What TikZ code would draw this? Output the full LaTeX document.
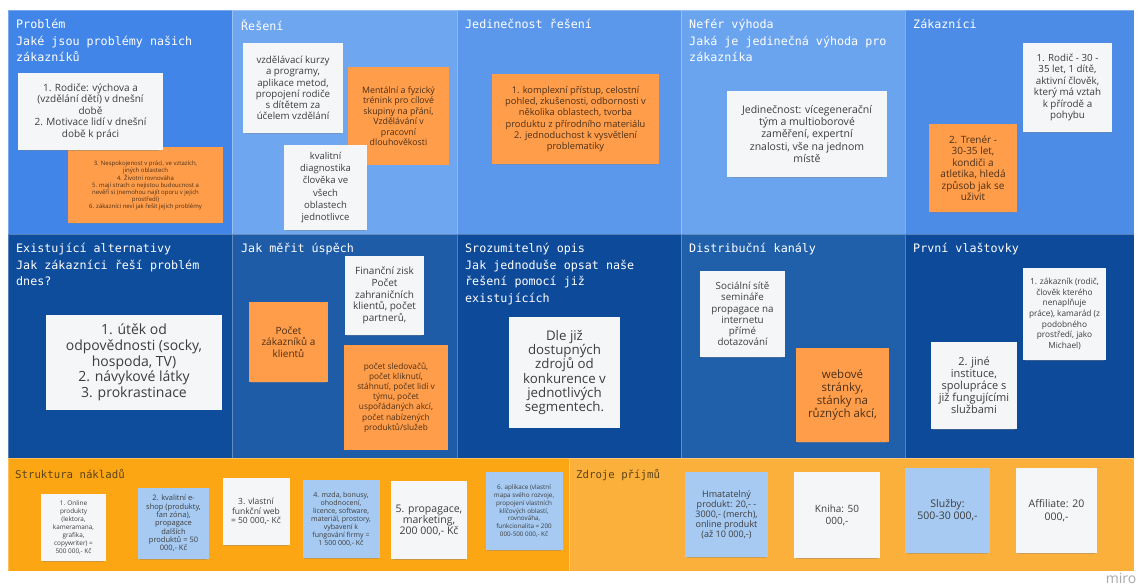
\documentclass[tikz,border=0pt]{standalone}
\usepackage{fontspec}
\setmainfont{Open Sans}
\newfontfamily\monohead{DejaVu Sans Mono}
\usetikzlibrary{shadows}

\definecolor{probBlue}{HTML}{4285E8}
\definecolor{solBlue}{HTML}{6EA6EF}
\definecolor{uniqBlue}{HTML}{5B98EC}
\definecolor{advBlue}{HTML}{6AA4EF}
\definecolor{custBlue}{HTML}{4C8BE6}
\definecolor{altBlue}{HTML}{0E4C9C}
\definecolor{metBlue}{HTML}{1F5CA8}
\definecolor{descBlue}{HTML}{0D4A99}
\definecolor{chanBlue}{HTML}{2060AA}
\definecolor{earlyBlue}{HTML}{0D4A9A}
\definecolor{costOrange}{HTML}{FCA614}
\definecolor{revOrange}{HTML}{FBB03C}
\definecolor{stickyWhite}{HTML}{F5F6F8}
\definecolor{stickyOrange}{HTML}{FF9D4A}
\definecolor{stickyBlue}{HTML}{A6CAF2}
\definecolor{inkGray}{HTML}{3D3D3D}
\definecolor{inkBrown}{HTML}{4B3018}
\definecolor{headBrown}{HTML}{5C4318}
\definecolor{logoGray}{HTML}{A8A8A8}

\begin{document}
\begin{tikzpicture}[x=1pt,y=-1pt,
	sticky/.style={rectangle, align=center, inner sep=1pt, drop shadow={shadow xshift=0pt, shadow yshift=-3pt, shadow scale=0.95, opacity=0.4}},
	whitenote/.style={sticky, fill=stickyWhite, text=inkGray},
	orangenote/.style={sticky, fill=stickyOrange, text=inkBrown},
	bluenote/.style={sticky, fill=stickyBlue, text=inkGray},
	fsz/.style 2 args={font=\fontsize{#1}{#2}\selectfont},
	heading/.style={anchor=north west, align=left, inner sep=0pt, text=white, font=\monohead\fontsize{11.7}{16.5}\selectfont},
	lowheading/.style={heading, text=headBrown, font=\monohead\fontsize{10.7}{14}\selectfont},
	cell/.style={draw=white, draw opacity=0.3, line width=0.6pt}]
	
	\useasboundingbox (0,0) rectangle (1140,586);
	\fill[white] (0,0) rectangle (1140,586);
	
	%Canvas cells
	\path[fill=probBlue, cell] (8,10) rectangle (232,234);
	\path[fill=solBlue, cell] (232,10) rectangle (457,234);
	\path[fill=uniqBlue, cell] (457,10) rectangle (681,234);
	\path[fill=advBlue, cell] (681,10) rectangle (905,234);
	\path[fill=custBlue, cell] (905,10) rectangle (1134,234);
	\path[fill=altBlue, cell] (8,234) rectangle (232,458);
	\path[fill=metBlue, cell] (232,234) rectangle (457,458);
	\path[fill=descBlue, cell] (457,234) rectangle (681,458);
	\path[fill=chanBlue, cell] (681,234) rectangle (905,458);
	\path[fill=earlyBlue, cell] (905,234) rectangle (1134,458);
	\path[fill=costOrange, cell] (8,458) rectangle (569,571);
	\path[fill=revOrange, cell] (569,458) rectangle (1134,571);
	
	%Headings
	\node (probHead) at (16,19) [heading]{Problém\\Jaké jsou problémy našich\\zákazníků};
	\node (solHead) at (241,19) [heading]{Řešení};
	\node (uniqHead) at (465,19) [heading]{Jedinečnost řešení};
	\node (advHead) at (689,19) [heading]{Nefér výhoda\\Jaká je jedinečná výhoda pro\\zákazníka};
	\node (custHead) at (913,19) [heading]{Zákazníci};
	\node (altHead) at (16,243) [heading]{Existující alternativy\\Jak zákazníci řeší problém\\dnes?};
	\node (metHead) at (241,243) [heading]{Jak měřit úspěch};
	\node (descHead) at (465,243) [heading]{Srozumitelný opis\\Jak jednoduše opsat naše\\řešení pomocí již\\existujících};
	\node (chanHead) at (689,243) [heading]{Distribuční kanály};
	\node (earlyHead) at (913,243) [heading]{První vlaštovky};
	\node (costHead) at (15,469) [lowheading]{Struktura nákladů};
	\node (revHead) at (576,469) [lowheading]{Zdroje příjmů};
	
	%Problem notes
	\node (probB) at (145.5,185) [orangenote, minimum width=155pt, minimum height=76pt, fsz={6}{7}]{3. Nespokojenost v práci, ve vztazích,\\jiných oblastech\\4. Životní rovnováha\\5. mají strach o nejistou budoucnost a\\nevěří si (nemohou najít oporu v jejich\\prostředí)\\6. zákazníci neví jak řešit jejich problémy};
	\node (probA) at (90.5,111.5) [whitenote, minimum width=145pt, minimum height=77pt, fsz={10}{11.5}]{1. Rodiče: výchova a\\(vzdělání dětí) v dnešní\\době\\2. Motivace lidí v dnešní\\době k práci};
	
	%Solution notes
	\node (solA) at (293,88) [whitenote, minimum width=100pt, minimum height=90pt, fsz={9.7}{11.3}]{vzdělávací kurzy\\a programy,\\aplikace metod,\\propojení rodiče\\s dítětem za\\účelem vzdělání};
	\node (solB) at (398.5,116) [orangenote, minimum width=101pt, minimum height=98pt, fsz={8.8}{10.5}]{Mentální a fyzický\\trénink pro cílové\\skupiny na přání,\\Vzdělávání v\\pracovní\\dlouhověkosti};
	\node (solC) at (325.5,187.5) [whitenote, minimum width=83pt, minimum height=85pt, fsz={9.5}{12}]{kvalitní\\diagnostika\\člověka ve\\všech\\oblastech\\jednotlivce};
	
	%Uniqueness note
	\node (uniqA) at (575.5,119) [orangenote, minimum width=167pt, minimum height=90pt, fsz={9.3}{11.3}]{1. komplexní přístup, celostní\\pohled, zkušenosti, odbornosti v\\několika oblastech, tvorba\\produktu z přírodního materiálu\\2. jednoduchost k vysvětlení\\problematiky};
	
	%Advantage note
	\node (advA) at (807,134) [whitenote, minimum width=160pt, minimum height=86pt, fsz={10.5}{12.2}]{Jedinečnost: vícegenerační\\tým a multioborové\\zaměření, expertní\\znalosti, vše na jednom\\místě};
	
	%Customer notes
	\node (custA) at (1067.5,87.5) [whitenote, minimum width=89pt, minimum height=89pt, fsz={9.8}{11.4}]{1. Rodič - 30 -\\35 let, 1 dítě,\\aktivní člověk,\\který má vztah\\k přírodě a\\pohybu};
	\node (custB) at (973,168) [orangenote, minimum width=88pt, minimum height=88pt, fsz={10}{11.5}]{2. Trenér -\\30-35 let,\\kondiči a\\atletika, hledá\\způsob jak se\\uživit};
	
	%Alternatives note
	\node (altA) at (134,362.5) [whitenote, minimum width=176pt, minimum height=95pt, fsz={14}{15.8}]{1. útěk od\\odpovědnosti (socky,\\hospoda, TV)\\2. návykové látky\\3. prokrastinace};
	
	%Metrics notes
	\node (metA) at (384.5,295.5) [whitenote, minimum width=79pt, minimum height=79pt, fsz={10}{11.6}]{Finanční zisk\\Počet\\zahraničních\\klientů, počet\\partnerů,};
	\node (metB) at (288.5,342) [orangenote, minimum width=79pt, minimum height=80pt, fsz={10}{11.7}]{Počet\\zákazníků a\\klientů};
	\node (metC) at (396,397.5) [orangenote, minimum width=104pt, minimum height=105pt, fsz={8.3}{10.1}]{počet sledovačů,\\počet kliknutí,\\stáhnutí, počet lidí v\\týmu, počet\\uspořádaných akcí,\\počet nabízených\\produktů/služeb};
	
	%Description note
	\node (descA) at (564.5,372.5) [whitenote, minimum width=111pt, minimum height=111pt, fsz={13.3}{14.3}]{Dle již\\dostupných\\zdrojů od\\konkurence v\\jednotlivých\\segmentech.};
	
	%Channel notes
	\node (chanA) at (742.5,314) [whitenote, minimum width=85pt, minimum height=86pt, fsz={9.8}{11.3}]{Sociální sítě\\semináře\\propagace na\\internetu\\přímé\\dotazování};
	\node (chanB) at (842.5,395) [orangenote, minimum width=93pt, minimum height=94pt, fsz={11.5}{13.3}]{webové\\stránky,\\stánky na\\různých akcí,};
	
	%Early adopter notes
	\node (earlyA) at (1064.5,314) [whitenote, minimum width=83pt, minimum height=92pt, fsz={8.3}{10.6}]{1. zákazník (rodič,\\člověk kterého\\nenaplňuje\\práce), kamarád (z\\podobného\\prostředí, jako\\Michael)};
	\node (earlyB) at (974,385.5) [whitenote, minimum width=86pt, minimum height=87pt, fsz={11}{12}]{2. jiné\\instituce,\\spolupráce s\\již fungujícími\\službami};
	
	%Cost notes
	\node (costA) at (73.5,527.5) [whitenote, minimum width=65pt, minimum height=67pt, fsz={6.4}{7.9}]{1. Online\\produkty\\(lektora,\\kameramana,\\grafika,\\copywriter) =\\500 000,- Kč};
	\node (costB) at (173.5,523.5) [bluenote, minimum width=71pt, minimum height=71pt, fsz={7.5}{8.3}]{2. kvalitní e-\\shop (produkty,\\fan zóna),\\propagace\\dalších\\produktů = 50\\000,- Kč};
	\node (costC) at (256,511.5) [whitenote, minimum width=67pt, minimum height=67pt, fsz={8.5}{9.5}]{3. vlastní\\funkční web\\= 50 000,- Kč};
	\node (costD) at (341,519) [bluenote, minimum width=77pt, minimum height=78pt, fsz={7}{8}]{4. mzda, bonusy,\\ohodnocení,\\licence, software,\\materiál, prostory,\\vybavení k\\fungování firmy =\\1 500 000,- Kč};
	\node (costE) at (429,520) [whitenote, minimum width=76pt, minimum height=78pt, fsz={10.5}{11}]{5. propagace,\\marketing,\\200 000,- Kč};
	\node (costF) at (524,511) [bluenote, minimum width=77pt, minimum height=78pt, fsz={6.3}{7.7}]{6. aplikace (vlastní\\mapa svého rozvoje,\\propojení vlastních\\klíčových oblastí,\\rovnováha,\\funkcionalita = 200\\000-500 000,- Kč};
	
	%Revenue notes
	\node (revA) at (726.5,514.5) [bluenote, minimum width=83pt, minimum height=85pt, fsz={9}{10}]{Hmatatelný\\produkt: 20,- -\\3000,- (merch),\\online produkt\\(až 10 000,-)};
	\node (revB) at (837,515) [whitenote, minimum width=86pt, minimum height=86pt, fsz={10}{12}]{Kniha: 50\\000,-};
	\node (revC) at (947.5,510.5) [bluenote, minimum width=85pt, minimum height=85pt, fsz={10.5}{12}]{Služby:\\500-30 000,-};
	\node (revD) at (1056.5,510.5) [whitenote, minimum width=81pt, minimum height=85pt, fsz={10.5}{12.5}]{Affiliate: 20\\000,-};
	
	%Logo
	\node (miroLogo) at (1121,578) [text=logoGray, inner sep=0pt, font=\fontsize{14}{14}\selectfont]{miro};
	
\end{tikzpicture}
\end{document}
